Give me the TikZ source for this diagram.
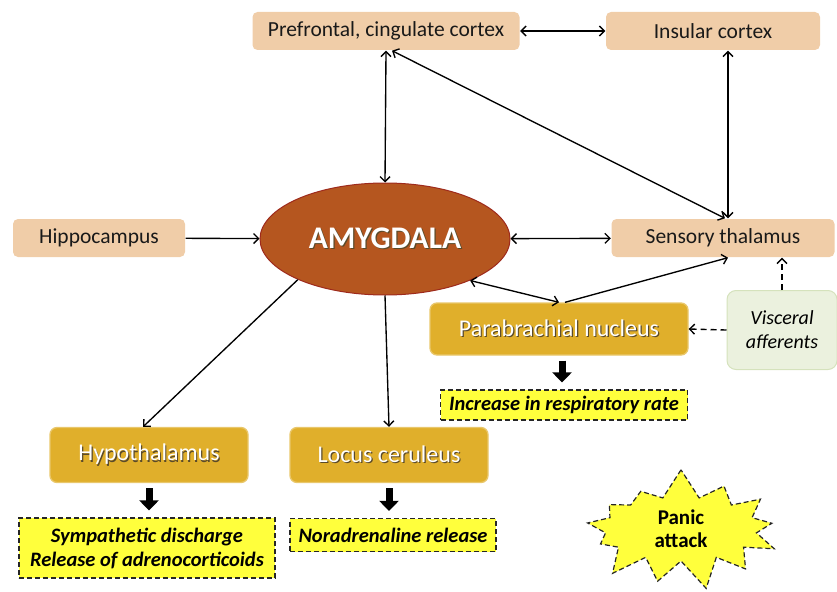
\documentclass[tikz,border=0pt]{standalone}
\usepackage{fontspec}
\setmainfont{Carlito}
\usetikzlibrary{arrows.meta,shapes.geometric,shapes.symbols,positioning}
\definecolor{tanColor}{HTML}{F0CDA8}
\definecolor{goldColor}{HTML}{E0AF2B}
\definecolor{amyColor}{HTML}{B5561F}
\definecolor{amyEdge}{HTML}{9E2A1C}
\definecolor{viscColor}{HTML}{EBF1DE}
\definecolor{viscEdge}{HTML}{D5E2BC}
\definecolor{effColor}{HTML}{FFFF3C}
\definecolor{shadeColor}{HTML}{5A4A2A}
\newcommand{\shadowed}[1]{\makebox[0pt][l]{\hspace{1.2pt}\raisebox{-1.2pt}{\textcolor{shadeColor}{#1}}}\textcolor{white}{#1}}
\tikzset{region state/.style={rounded corners=5pt, fill=tanColor, text=black!90,
		minimum height=38pt, inner sep=2pt, font=\fontsize{21.5}{24}\selectfont}}
\tikzset{nucleus state/.style={rounded corners=7pt, fill=goldColor, draw=goldColor!70!white,
		minimum width=198pt, minimum height=55pt, font=\fontsize{24}{26}\selectfont}}
\tikzset{effect state/.style={fill=effColor, draw=black!85, line width=1.2pt,
		dash pattern=on 5pt off 3pt, align=center, inner sep=3pt,
		font=\fontsize{20.5}{24}\selectfont\bfseries\itshape}}
\tikzset{block/.style={-{Triangle[width=19pt,length=10pt]}, line width=7pt,
		shorten <=5pt, shorten >=7pt}}
\tikzset{afferent/.style={->, dash pattern=on 6pt off 4pt}}

\begin{document}
\begin{tikzpicture}[x=1pt,y=-1pt,<->,>={Straight Barb[length=5pt,width=10pt]},
		line width=1.35pt, black]
	\useasboundingbox (0,0) rectangle (837,591);
	\node[region state, minimum width=267pt] at (386,31)  (pfc) {Prefrontal, cingulate cortex};
	\node[region state, minimum width=214pt] at (713,31)  (ins) {Insular cortex};
	\node[region state, minimum width=172pt] at (99,238)  (hip) {Hippocampus};
	\node[region state, minimum width=223pt] at (723,238) (sth) {Sensory thalamus};
	\node[ellipse, fill=amyColor, draw=amyEdge, line width=1pt, minimum width=250pt,
		minimum height=112pt, font=\fontsize{31.5}{34}\selectfont\bfseries] at (385,239) (amy) {\shadowed{AMYGDALA}};
	\node[nucleus state, minimum width=258pt, minimum height=52pt] at (559,329) (pbn) {\shadowed{Parabrachial nucleus}};
	\node[rounded corners=9pt, fill=viscColor, draw=viscEdge, line width=1pt, minimum width=110pt,
		minimum height=79pt, align=center, font=\fontsize{20}{24}\selectfont\itshape] at (782,330) (vis) {Visceral\\afferents};
	\node[effect state, minimum width=247pt, minimum height=30pt] at (564,405) (resp) {Increase in respiratory rate};
	\node[nucleus state] at (149,455) (hyp) {\shadowed{Hypothalamus}};
	\node[nucleus state] at (389,455) (lc)  {\shadowed{Locus ceruleus}};
	\node[effect state, minimum width=256pt, minimum height=60pt] at (147,548) (sym) {Sympathetic discharge\\Release of adrenocorticoids};
	\node[effect state, minimum width=206pt, minimum height=33pt] at (393,535) (nor) {Noradrenaline release};
	\node[starburst, starburst points=13, starburst point height=30pt, random starburst=7,
		fill=effColor, draw=black!85, line width=1.2pt, dash pattern=on 5pt off 3pt,
		minimum width=212pt, minimum height=124pt, align=center,
		font=\fontsize{21}{23}\selectfont\bfseries] at (681,529) (pan) {Panic\\attack};

	\path (pfc) edge (ins);
	\path (pfc.south) edge (amy.north);
	\path ([xshift=6pt]pfc.south) edge ([xshift=2pt]sth.north);
	\path ([xshift=15pt]ins.south) edge ([xshift=5pt]sth.north);
	\path (hip) edge[->] (amy);
	\path (amy) edge (sth);
	\path (amy.-26) edge (pbn.north);
	\path ([xshift=6pt]pbn.north) edge[->] ([xshift=5pt]sth.south);
	\path (vis.north) edge[afferent] (vis.north |- sth.south);
	\path (vis.west) edge[afferent] (pbn.east);
	\path (amy.-155) edge[->] ([xshift=-6pt]hyp.north);
	\path (amy.south) edge[->] (lc.north);
	% effects
	\draw[block] ([xshift=3pt]pbn.south) -- ([xshift=3pt]pbn.south |- resp.north);
	\draw[block] (hyp.south) -- (hyp.south |- sym.north);
	\draw[block] (lc.south) -- (lc.south |- nor.north);
\end{tikzpicture}
\end{document}
